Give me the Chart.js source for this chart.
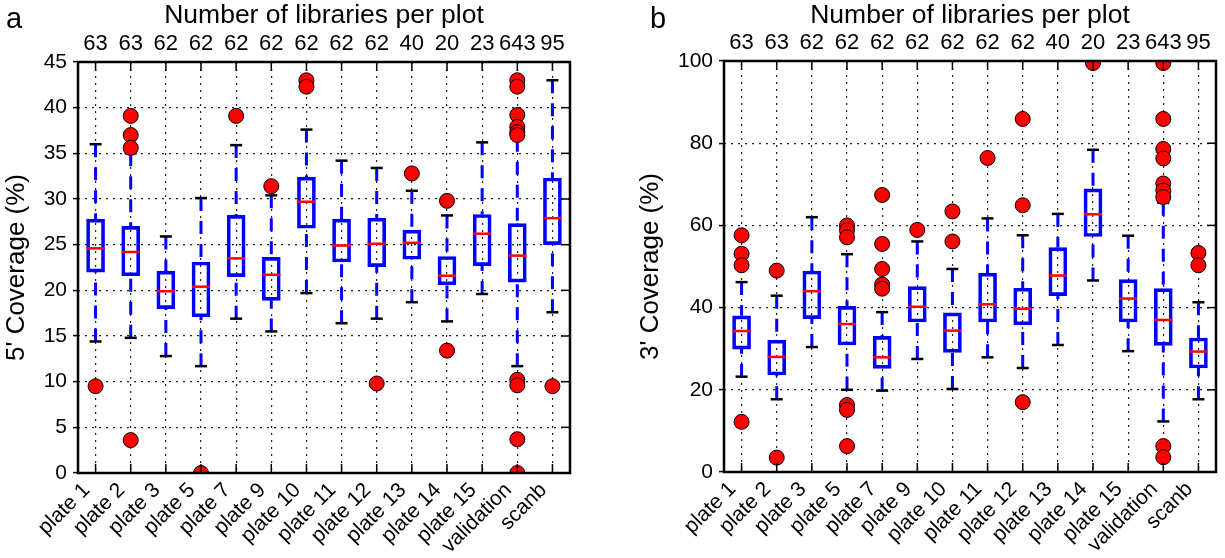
<!DOCTYPE html>
<html>
<head>
<meta charset="utf-8">
<script src="https://cdn.jsdelivr.net/npm/chart.js@4.4.1/dist/chart.umd.min.js"></script>
<style>
  html, body { margin: 0; padding: 0; background: #fff; }
  #wrap { position: relative; width: 1225px; height: 558px; background: #fff; }
  canvas { position: absolute; top: 0; }
</style>
</head>
<body>
<div id="wrap">
  <canvas id="chartA" width="612" height="558" style="left:0"></canvas>
  <canvas id="chartB" width="613" height="558" style="left:612px"></canvas>
</div>
<script>
const plates = ["plate 1", "plate 2", "plate 3", "plate 5", "plate 7", "plate 9", "plate 10",
  "plate 11", "plate 12", "plate 13", "plate 14", "plate 15", "validation", "scanb"];
const libraryCounts = ["63", "63", "62", "62", "62", "62", "62", "62", "62", "40", "20", "23", "643", "95"];

// 5' coverage (%)
const fiveLow  = [14.4, 14.8, 12.8, 11.7, 16.9, 15.5, 19.7, 16.4, 16.9, 18.7, 16.6, 19.6, 11.7, 17.6];
const fiveQ1   = [22.0, 21.6, 18.0, 17.1, 21.5, 18.9, 26.8, 23.1, 22.6, 23.4, 20.6, 22.7, 20.9, 25.0];
const fiveMed  = [24.6, 24.2, 19.9, 20.4, 23.5, 21.7, 29.7, 24.9, 25.1, 25.2, 21.6, 26.2, 23.8, 27.9];
const fiveQ3   = [27.8, 27.0, 22.1, 23.1, 28.2, 23.6, 32.4, 27.8, 27.9, 26.6, 23.7, 28.3, 27.3, 32.3];
const fiveHigh = [36.0, 35.0, 25.9, 30.1, 35.9, 30.4, 37.6, 34.2, 33.4, 30.9, 28.2, 36.2, 36.6, 43.0];
const fiveOutliers = [[9.5], [39.1, 37.0, 35.6, 3.6], [], [0], [39.1], [31.4], [43.0, 42.3], [],
  [9.8], [32.8], [29.8, 13.4], [], [43.0, 42.3, 39.2, 37.9, 37.3, 37.0, 10.2, 9.6, 3.7, 0], [9.5]];

// 3' coverage (%)
const threeLow  = [23.2, 17.7, 30.4, 20.0, 19.8, 27.5, 20.2, 27.9, 25.3, 30.9, 46.6, 29.4, 12.3, 17.7];
const threeQ1   = [29.9, 23.6, 37.3, 30.9, 25.2, 36.5, 29.1, 36.5, 35.8, 42.9, 57.3, 36.5, 30.8, 25.3];
const threeMed  = [34.3, 28.0, 44.0, 36.0, 27.9, 40.2, 34.4, 40.8, 39.7, 47.8, 62.7, 42.2, 37.0, 29.3];
const threeQ3   = [38.0, 32.1, 48.9, 40.3, 33.0, 45.1, 38.7, 48.4, 44.7, 54.6, 68.9, 46.8, 44.6, 32.6];
const threeHigh = [46.2, 42.9, 62.0, 53.0, 38.9, 56.1, 49.4, 61.7, 57.6, 62.8, 78.4, 57.5, 65.5, 41.3];
const threeOutliers = [[57.6, 53.1, 50.3, 12.2], [49.0, 3.5], [], [60.0, 58.8, 57.1, 16.3, 15.1, 6.3],
  [67.4, 55.5, 49.4, 45.6, 44.6], [58.9], [63.4, 56.1], [76.4], [85.9, 64.9, 17.0], [], [99.5], [],
  [99.5, 85.9, 78.6, 76.3, 70.2, 68.5, 66.9, 6.3, 3.6], [53.3, 50.3]];

Chart.defaults.font.family = "'Liberation Sans', Arial, sans-serif";
Chart.defaults.color = "#000";

// whiskers, caps, medians, frame and inward ticks
function boxPlugin(low, q1, med, q3, high, letter, letterX) {
  return {
    id: "boxParts",
    beforeDatasetsDraw(chart) {
      const xs = chart.scales.x, ys = chart.scales.y, ctx = chart.ctx;
      ctx.save();
      low.forEach((lo, i) => {
        const x = xs.getPixelForValue(i);
        ctx.strokeStyle = "#0000ff";
        ctx.lineWidth = 3;
        ctx.setLineDash([13, 10]);
        [[high[i], q3[i]], [lo, q1[i]]].forEach(([end, edge]) => {
          ctx.beginPath();
          ctx.moveTo(x, ys.getPixelForValue(end));
          ctx.lineTo(x, ys.getPixelForValue(edge));
          ctx.stroke();
        });
        ctx.setLineDash([]);
        ctx.strokeStyle = "#000";
        ctx.lineWidth = 2.5;
        [high[i], lo].forEach(v => {
          const y = ys.getPixelForValue(v);
          ctx.beginPath();
          ctx.moveTo(x - 6, y);
          ctx.lineTo(x + 6, y);
          ctx.stroke();
        });
      });
      ctx.restore();
    },
    afterDatasetDraw(chart, args) {
      if (args.index !== 0) return;
      const xs = chart.scales.x, ys = chart.scales.y, ctx = chart.ctx;
      ctx.save();
      ctx.strokeStyle = "#ff0000";
      ctx.lineWidth = 2.5;
      med.forEach((m, i) => {
        const x = xs.getPixelForValue(i), y = ys.getPixelForValue(m);
        ctx.beginPath();
        ctx.moveTo(x - 9, y);
        ctx.lineTo(x + 9, y);
        ctx.stroke();
      });
      ctx.restore();
    },
    afterDraw(chart) {
      const {left, right, top, bottom} = chart.chartArea;
      const xs = chart.scales.x, ys = chart.scales.y, ctx = chart.ctx;
      ctx.save();
      ctx.strokeStyle = "#000";
      ctx.lineWidth = 1.5;
      plates.forEach((p, i) => {
        const x = xs.getPixelForValue(i);
        ctx.beginPath();
        ctx.moveTo(x, bottom); ctx.lineTo(x, bottom - 9);
        ctx.moveTo(x, top); ctx.lineTo(x, top + 9);
        ctx.stroke();
      });
      ys.ticks.forEach(t => {
        const y = ys.getPixelForValue(t.value);
        ctx.beginPath();
        ctx.moveTo(right, y); ctx.lineTo(right - 9, y);
        ctx.stroke();
      });
      ctx.lineWidth = 2.5;
      ctx.strokeRect(left, top, right - left, bottom - top);
      ctx.fillStyle = "#000";
      ctx.font = "29px 'Liberation Sans', Arial, sans-serif";
      ctx.textBaseline = "alphabetic";
      ctx.fillText(letter, letterX, 28);
      ctx.restore();
    }
  };
}

function makeChart(id, opts) {
  const boxes = opts.q1.map((v, i) => [v, opts.q3[i]]);
  const points = opts.outliers.flatMap((list, i) => list.map(v => ({x: plates[i], y: v})));
  return new Chart(document.getElementById(id), {
    type: "bar",
    data: {
      labels: plates,
      datasets: [
        {
          data: boxes,
          order: 1,
          backgroundColor: "rgba(0,0,0,0)",
          borderColor: "#0000ff",
          borderWidth: 3,
          borderSkipped: false,
          barThickness: 18,
          grouped: false
        },
        {
          type: "scatter",
          data: points,
          order: 0,
          clip: 0,
          pointRadius: 7.5,
          pointBackgroundColor: "#ff0000",
          pointBorderColor: "#000",
          pointBorderWidth: 1
        }
      ]
    },
    options: {
      responsive: false,
      animation: false,
      layout: { padding: { left: 0, right: opts.rightPad, top: 0, bottom: 0 } },
      plugins: { legend: { display: false }, tooltip: { enabled: false } },
      scales: {
        x: {
          type: "category",
          position: "bottom",
          offset: true,
          grid: { offset: false, color: "#222", lineWidth: 1.2, drawTicks: false },
          border: { display: false, dash: [2, 5] },
          ticks: {
            autoSkip: false, minRotation: 45, maxRotation: 45, padding: 5, labelOffset: -9,
            font: { size: 21 }
          },
          afterFit: s => { s.height = 558 - opts.plotBottom; }
        },
        x2: {
          type: "category",
          position: "top",
          labels: libraryCounts,
          offset: true,
          grid: { display: false, drawTicks: false },
          border: { display: false },
          ticks: { autoSkip: false, maxRotation: 0, padding: 5, font: { size: 22 } },
          title: {
            display: true, text: "Number of libraries per plot",
            font: { size: 26.5 }, padding: { top: 0, bottom: 0 }
          },
          afterFit: s => { s.height = opts.plotTop; }
        },
        y: {
          min: 0,
          max: opts.yMax,
          grid: { color: "#222", lineWidth: 1.2, tickLength: 5, tickColor: "#000", tickWidth: 1.5 },
          border: { display: false, dash: [2, 5] },
          ticks: { stepSize: opts.yStep, padding: 6, font: { size: 21 } },
          title: {
            display: true, text: opts.yTitle,
            font: { size: 26 }, padding: { top: opts.titlePad, bottom: 0 }
          },
          afterFit: s => { s.width = opts.yWidth; }
        }
      }
    },
    plugins: [boxPlugin(opts.low, opts.q1, opts.med, opts.q3, opts.high, opts.letter, opts.letterX)]
  });
}

makeChart("chartA", {
  low: fiveLow, q1: fiveQ1, med: fiveMed, q3: fiveQ3, high: fiveHigh, outliers: fiveOutliers,
  yMax: 45, yStep: 5, yTitle: "5' Coverage (%)", titlePad: 1,
  yWidth: 78, rightPad: 42, plotTop: 62, plotBottom: 473, letter: "a", letterX: 6
});

makeChart("chartB", {
  low: threeLow, q1: threeQ1, med: threeMed, q3: threeQ3, high: threeHigh, outliers: threeOutliers,
  yMax: 100, yStep: 20, yTitle: "3' Coverage (%)", titlePad: 23,
  yWidth: 112, rightPad: 9, plotTop: 61, plotBottom: 472, letter: "b", letterX: 38
});
</script>
</body>
</html>
